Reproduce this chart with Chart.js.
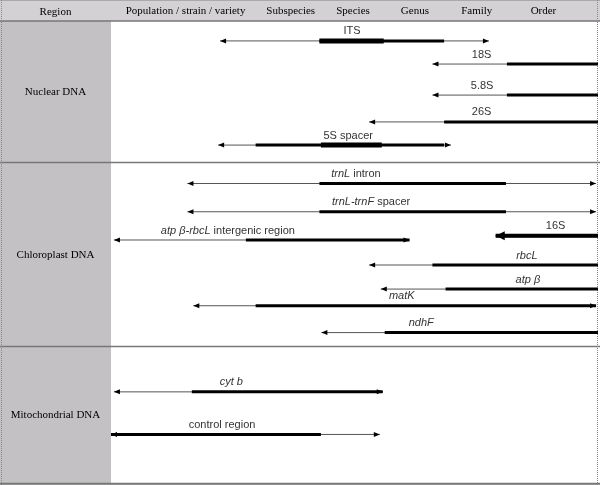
<!DOCTYPE html>
<html>
<head>
<meta charset="utf-8">
<script src="https://cdn.jsdelivr.net/npm/chart.js@4.4.1/dist/chart.umd.min.js"></script>
<style>
  body { margin: 0; background: #fff; }
  canvas { display: block; }
</style>
</head>
<body>
<canvas id="markerChart" width="600" height="485"></canvas>
<script>
// Markers and the taxonomic range they resolve (x: 0 = population ... 100 = order, y: 0 = top ... 100 = bottom)
const markers = ['ITS', '18S', '5.8S', '26S', '5S spacer',
    'trnL intron', 'trnL-trnF spacer', 'atp β-rbcL intergenic region', '16S', 'rbcL', 'atp β', 'matK', 'ndhF',
    'cyt b', 'control region'];
const italicPart = ['', '', '', '', '',
    'trnL', 'trnL-trnF', 'atp β-rbcL', '', 'rbcL', 'atp β', 'matK', 'ndhF',
    'cyt b', ''];
const rowPos = [4.3, 9.3, 16.0, 21.8, 26.8, 35.1, 41.2, 47.3, 46.4, 52.7, 57.9, 61.5, 67.3, 80.1, 89.3];
const rangeFrom = [22.4, 66.0, 66.0, 53.0, 22.0, 15.7, 15.7, 0.6, 79.0, 53.0, 55.4, 16.9, 43.2, 0.6, 0];
const rangeTo = [77.6, 100, 100, 100, 69.8, 99.6, 99.6, 61.3, 100, 100, 100, 99.6, 100, 55.8, 55.2];
const coreFrom = [42.8, 81.3, 81.3, 68.4, 29.7, 42.8, 42.8, 27.7, 79.0, 66.0, 68.7, 29.7, 56.2, 16.6, 0];
const coreTo = [68.4, 100, 100, 100, 68.4, 81.1, 81.1, 61.3, 100, 100, 100, 99.6, 100, 55.8, 43.1];
const peakFrom = [42.8, null, null, null, 43.1, null, null, null, 79.0, null, null, null, null, null, null];
const peakTo = [56.0, null, null, null, 55.6, null, null, null, 100, null, null, null, null, null, null];
const labelPos = [49.5, 76.1, 76.2, 76.1, 48.7, 50.3, 53.4, 24.0, 91.3, 85.4, 85.6, 59.7, 63.7, 24.7, 22.8];

const headerTicks = [15.3, 36.9, 49.7, 62.4, 75.1, 88.8];
const headerLabels = ['Population / strain / variety', 'Subspecies', 'Species', 'Genus', 'Family', 'Order'];
const sectionNames = ['Nuclear DNA', 'Chloroplast DNA', 'Mitochondrial DNA'];
const sectionBreaks = [0, 30.7, 70.4, 100];

const serif = '"Liberation Serif", "Times New Roman", serif';
const sans = '"Liberation Sans", Arial, sans-serif';

// one dataset per line segment
const datasets = [];
markers.forEach((name, i) => {
    const y = rowPos[i];
    datasets.push({
        label: name,
        data: [{ x: rangeFrom[i], y: y }, { x: rangeTo[i], y: y }],
        borderColor: '#555',
        borderWidth: 1,
        order: 3
    });
    datasets.push({
        label: name + ' core',
        data: [{ x: coreFrom[i], y: y }, { x: coreTo[i], y: y }],
        borderColor: '#000',
        borderWidth: 3,
        order: 2
    });
    if (peakFrom[i] !== null) {
        datasets.push({
            label: name + ' best',
            data: [{ x: peakFrom[i], y: y }, { x: peakTo[i], y: y }],
            borderColor: '#000',
            borderWidth: name === '16S' ? 4 : 5,
            order: 1
        });
    }
});

// table background, borders and section names
const tablePlugin = {
    id: 'table',
    beforeDraw(chart) {
        const { ctx, chartArea, scales } = chart;
        const w = chart.width, h = chart.height;
        ctx.save();
        ctx.fillStyle = '#fff';
        ctx.fillRect(0, 0, w, h);
        ctx.fillStyle = '#d4d1d4';
        ctx.fillRect(0, 0, w, chartArea.top);
        ctx.fillStyle = '#c4c1c4';
        ctx.fillRect(0, chartArea.top, chartArea.left, chartArea.bottom - chartArea.top);

        // top border
        ctx.strokeStyle = '#aaa';
        ctx.lineWidth = 1;
        ctx.beginPath();
        ctx.moveTo(0, 0.5);
        ctx.lineTo(w, 0.5);
        ctx.stroke();

        // header bottom, section dividers and bottom border
        ctx.strokeStyle = '#777';
        ctx.lineWidth = 1.5;
        ctx.beginPath();
        ctx.moveTo(0, chartArea.top);
        ctx.lineTo(w, chartArea.top);
        sectionBreaks.slice(1).forEach(v => {
            const py = Math.round(scales.y.getPixelForValue(v)) - 0.5;
            ctx.moveTo(0, py);
            ctx.lineTo(w, py);
        });
        ctx.stroke();

        // dotted side borders
        ctx.strokeStyle = '#888';
        ctx.lineWidth = 1;
        ctx.setLineDash([1, 1]);
        ctx.beginPath();
        ctx.moveTo(1.5, 0);
        ctx.lineTo(1.5, h);
        ctx.moveTo(chartArea.right - 0.5, 0);
        ctx.lineTo(chartArea.right - 0.5, h);
        ctx.stroke();
        ctx.setLineDash([]);

        // left column titles
        ctx.fillStyle = '#000';
        ctx.font = '11px ' + serif;
        ctx.textAlign = 'center';
        ctx.textBaseline = 'middle';
        ctx.fillText('Region', chartArea.left / 2, chartArea.top / 2 + 1.5);
        sectionNames.forEach((s, i) => {
            const mid = (sectionBreaks[i] + sectionBreaks[i + 1]) / 2;
            ctx.fillText(s, chartArea.left / 2, scales.y.getPixelForValue(mid));
        });
        ctx.restore();
    }
};

// arrowheads and marker names
function arrowHead(ctx, x, y, dir, len, half) {
    ctx.beginPath();
    ctx.moveTo(x, y);
    ctx.lineTo(x - dir * len, y - half);
    ctx.lineTo(x - dir * len, y + half);
    ctx.closePath();
    ctx.fill();
}

const markerPlugin = {
    id: 'markers',
    afterDatasetsDraw(chart) {
        const { ctx, scales } = chart;
        ctx.save();
        ctx.fillStyle = '#000';
        markers.forEach((name, i) => {
            const py = scales.y.getPixelForValue(rowPos[i]);
            const big = peakFrom[i] === rangeFrom[i];
            arrowHead(ctx, scales.x.getPixelForValue(rangeFrom[i]), py, -1, big ? 9 : 6, big ? 4.5 : 2.5);
            if (rangeTo[i] < 100) {
                arrowHead(ctx, scales.x.getPixelForValue(rangeTo[i]), py, 1, 6, 2.5);
            }
        });

        ctx.fillStyle = '#333';
        ctx.textBaseline = 'middle';
        ctx.textAlign = 'left';
        const italicFont = 'italic 11px ' + sans;
        const plainFont = '11px ' + sans;
        markers.forEach((name, i) => {
            const it = italicPart[i];
            const rest = name.slice(it.length);
            ctx.font = italicFont;
            const w1 = ctx.measureText(it).width;
            ctx.font = plainFont;
            const w2 = ctx.measureText(rest).width;
            let x = scales.x.getPixelForValue(labelPos[i]) - (w1 + w2) / 2;
            const y = scales.y.getPixelForValue(rowPos[i]) - 9.5;
            ctx.font = italicFont;
            ctx.fillText(it, x, y);
            ctx.font = plainFont;
            ctx.fillText(rest, x + w1, y);
        });
        ctx.restore();
    },
    afterDraw(chart) {
        // bottom border on top of everything
        const { ctx, chartArea } = chart;
        ctx.save();
        ctx.strokeStyle = '#777';
        ctx.lineWidth = 1.5;
        ctx.beginPath();
        ctx.moveTo(0, chartArea.bottom);
        ctx.lineTo(chart.width, chartArea.bottom);
        ctx.stroke();
        ctx.restore();
    }
};

const ctxMarkers = document.getElementById('markerChart').getContext('2d');
const markerChart = new Chart(ctxMarkers, {
    type: 'scatter',
    data: { datasets: datasets },
    options: {
        responsive: false,
        animation: false,
        showLine: true,
        layout: { padding: { left: 111, right: 2, top: 0, bottom: 1 } },
        elements: {
            point: { radius: 0, hoverRadius: 0 },
            line: { borderCapStyle: 'butt' }
        },
        scales: {
            x: {
                type: 'linear',
                position: 'top',
                min: 0,
                max: 100,
                afterFit: s => { s.height = 21; },
                afterBuildTicks: s => { s.ticks = headerTicks.map(v => ({ value: v })); },
                grid: { display: false, drawTicks: false },
                border: { display: false },
                ticks: {
                    autoSkip: false,
                    maxRotation: 0,
                    padding: 3,
                    color: '#000',
                    font: { family: serif, size: 11 },
                    callback: (v, i) => headerLabels[i]
                }
            },
            y: {
                type: 'linear',
                min: 0,
                max: 100,
                reverse: true,
                display: false
            }
        },
        plugins: {
            legend: { display: false },
            tooltip: { enabled: false }
        }
    },
    plugins: [tablePlugin, markerPlugin]
});
</script>
</body>
</html>
